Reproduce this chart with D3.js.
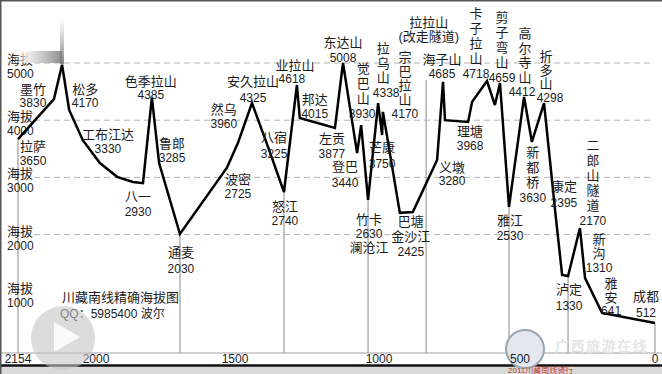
<!DOCTYPE html>
<html>
<head>
<meta charset="utf-8">
<script src="https://cdn.jsdelivr.net/npm/d3@7"></script>
<style>
  body { margin: 0; background: #fff; }
  svg { display: block; }
</style>
</head>
<body>
<script>
// profile of the road, Lhasa (left) to Chengdu (right); km = distance left to Chengdu
const routeNames = ["拉萨", "墨竹", "", "松多", "", "工布江达", "", "", "八一", "色季拉山",
  "鲁郎", "通麦", "波密", "然乌", "安久拉山", "八宿", "怒江", "业拉山", "邦达", "左贡",
  "东达山", "登巴", "觉巴山", "竹卡", "拉乌山", "芒康", "宗巴拉山", "巴塘", "拉拉山", "义墩",
  "海子山", "", "理塘", "", "卡子拉山", "", "剪子弯山", "雅江", "高尔寺山", "新都桥",
  "折多山", "康定", "", "泸定", "二郎山隧道", "新沟", "雅安", "成都"];
const routeKm = [2154, 2083, 2067, 2053, 2026, 1986, 1924, 1867, 1831, 1799,
  1773, 1698, 1529, 1490, 1441, 1385, 1330, 1285, 1275, 1153,
  1125, 1076, 1062, 1038, 1003, 989, 986, 926, 880, 794,
  773, 766, 684, 670, 617, 589, 571, 539, 485, 456,
  411, 367, 344, 322, 278, 259, 196, 0];
const routeAlt = [3670, 4370, 4970, 4180, 3650, 3250, 3010, 2920, 2900, 4400,
  3250, 2010, 3170, 3600, 4300, 3530, 2745, 4615, 4040, 3865,
  5000, 3425, 3915, 2605, 4300, 3740, 4145, 2380, 2395, 3305,
  4670, 4000, 3970, 4320, 4685, 4265, 4650, 2485, 4405, 3620,
  4300, 2290, 1295, 1275, 2115, 1240, 630, 455];

// labelled stations and the altitudes written on the chart
const stationNames = ["拉萨", "墨竹", "松多", "工布江达", "八一", "色季拉山", "鲁郎", "通麦",
  "波密", "然乌", "安久拉山", "八宿", "怒江", "业拉山", "邦达", "左贡", "东达山", "登巴",
  "觉巴山", "竹卡", "拉乌山", "芒康", "宗巴拉山", "巴塘", "拉拉山", "义墩", "海子山", "理塘",
  "卡子拉山", "剪子弯山", "雅江", "高尔寺山", "新都桥", "折多山", "康定", "泸定",
  "二郎山隧道", "新沟", "雅安", "成都"];
const stationAltText = ["3650", "3830", "4170", "3330", "2930", "4385", "3285", "2030",
  "2725", "3960", "4325", "3225", "2740", "4618", "4015", "3877", "5008", "3440",
  "3930", "2630", "4338", "3750", "4170", "2425", "", "3280", "4685", "3968",
  "4718", "4659", "2530", "4412", "3630", "4298", "2395", "1330",
  "2170", "1310", "641", "512"];
const stationNotes = { "竹卡": "澜沧江", "巴塘": "金沙江", "拉拉山": "(改走隧道)" };

const gridAlts = [2000, 3000, 4000, 5000];
const axisAlts = [1000, 2000, 3000, 4000, 5000];
const kmTicks = [2154, 2000, 1500, 1000, 500, 0];
// grey drop lines down to the axis
const dropKm = [2154, 1698, 1330, 1038, 833, 539, 322, 0];
const dropAlt = [3670, 2010, 2745, 2605, 4700, 2485, 1275, 455];

const title = "川藏南线精确海拔图";
const credit = "QQ：5985400  波尔";

// label layout: [dx, dy of first baseline, line step, extra dx of the number]
const labelLayout = {
  "拉萨": [15, 12, 14], "墨竹": [-21, -5, 13], "松多": [16, -16, 13], "工布江达": [8, -24, 14],
  "八一": [-5, 18, 15], "色季拉山": [-1, -11, 13], "鲁郎": [13, -15, 14], "通麦": [1, 23, 16],
  "波密": [11, 16, 14], "然乌": [-14, -29, 14], "安久拉山": [1, -17, 16], "八宿": [6, -5, 16],
  "怒江": [1, 19, 14], "业拉山": [-2, -15, 13, -3], "邦达": [15, -14, 14], "左贡": [-3, 15, 15],
  "东达山": [0, -16, 15], "登巴": [-12, 18, 16], "觉巴山": [2, -52, 15, -1], "竹卡": [1, 24, 14],
  "拉乌山": [5, -50, 14.7, 3], "芒康": [0, 17, 16], "宗巴拉山": [22, -50, 14], "巴塘": [11, 13, 15],
  "拉拉山": [16, -185, 13.7], "义墩": [15, 12, 13], "海子山": [-1, -18, 14], "理塘": [2, 14, 14],
  "卡子拉山": [-11, -63, 15], "剪子弯山": [2, -61, 15], "雅江": [1, 18, 15], "高尔寺山": [1, -59, 14.5, -3],
  "新都桥": [1, 15, 15], "折多山": [2, -42, 13.7, 4], "康定": [8, -27, 16], "泸定": [1, 18, 16],
  "二郎山隧道": [13, -78, 15], "新沟": [14, -34, 14], "雅安": [9, -25, 13.7], "成都": [-9, -22, 16]
};
const verticalNames = new Set(["觉巴山", "拉乌山", "宗巴拉山", "卡子拉山", "剪子弯山",
  "高尔寺山", "新都桥", "折多山", "二郎山隧道", "新沟", "雅安"]);
const noteAfterValue = new Set(["竹卡"]);

const width = 662, height = 374;
const font = "'Liberation Sans', 'Noto Sans CJK SC', sans-serif";
const ink = "#1c1c1c";

const x = d3.scaleLinear().domain(kmTicks).range([18, 96, 235, 379, 520, 655]);
const y = d3.scaleLinear().domain([0, 5000]).range([349, 63]);

const svg = d3.select("body").append("svg")
  .attr("width", width)
  .attr("height", height)
  .attr("viewBox", [0, 0, width, height])
  .style("font-family", font);

svg.append("rect").attr("width", width).attr("height", height).attr("fill", "#fff");

// dashed altitude grid
svg.append("g")
  .selectAll("line")
  .data(gridAlts)
  .join("line")
    .attr("x1", 34)
    .attr("x2", 652)
    .attr("y1", d => y(d))
    .attr("y2", d => y(d))
    .attr("stroke", "#b4b4b4")
    .attr("stroke-dasharray", "6,4");

// grey drops
svg.append("g")
  .selectAll("line")
  .data(dropKm)
  .join("line")
    .attr("x1", d => x(d))
    .attr("x2", d => x(d))
    .attr("y1", (d, i) => y(dropAlt[i]))
    .attr("y2", 353)
    .attr("stroke", "#b0b0b0")
    .attr("stroke-width", 1.5);

// bottom axis
svg.append("line").attr("x1", 0).attr("x2", width).attr("y1", 353).attr("y2", 353)
  .attr("stroke", "#a0a0a0");
svg.append("rect").attr("x", 0).attr("y", 366).attr("width", width).attr("height", 8)
  .attr("fill", "#d9d9d9");
svg.append("line").attr("x1", 0).attr("x2", width).attr("y1", 365.5).attr("y2", 365.5)
  .attr("stroke", "#111").attr("stroke-width", 2.5);

// watermark logo behind the 500 tick
svg.append("circle").attr("cx", 525).attr("cy", 349).attr("r", 19)
  .attr("fill", "#e3e8ee").attr("stroke", "#9aa6b2").attr("stroke-width", 2);
svg.append("text").attr("x", 555).attr("y", 351).attr("font-size", 14).attr("font-weight", 700)
  .attr("fill", "#e6e6e6").attr("letter-spacing", 1.5).text("广西旅游在线");
svg.append("text").attr("x", 508).attr("y", 373).attr("font-size", 8)
  .attr("fill", "#c0392b").text("2011川藏南线骑行");

svg.append("g")
  .selectAll("text")
  .data(kmTicks)
  .join("text")
    .attr("x", d => x(d))
    .attr("y", 363)
    .attr("text-anchor", "middle")
    .attr("font-size", 12)
    .attr("fill", ink)
    .text(d => d);

// left altitude labels
svg.append("g")
  .attr("fill", ink)
  .selectAll("text")
  .data(axisAlts)
  .join("text")
    .call(t => t.append("tspan")
      .attr("x", 7)
      .attr("y", d => y(d) + 1)
      .attr("font-size", 13)
      .text("海拔"))
    .call(t => t.append("tspan")
      .attr("x", 7)
      .attr("y", d => y(d) + 15)
      .attr("font-size", 12)
      .text(d => d));

// the profile
const line = d3.line()
  .x((d, i) => x(routeKm[i]))
  .y((d, i) => y(routeAlt[i]));

svg.append("path")
  .attr("d", line(routeAlt))
  .attr("fill", "none")
  .attr("stroke", "#000")
  .attr("stroke-width", 2.5)
  .attr("stroke-linejoin", "miter")
  .attr("stroke-miterlimit", 3);

// station labels, one text per station
const labels = svg.append("g").attr("fill", ink).attr("text-anchor", "middle");
stationNames.forEach((name, i) => {
  const k = routeNames.indexOf(name);
  const px = x(routeKm[k]), py = y(routeAlt[k]);
  const [dx, dy, step, numDx = 0] = labelLayout[name];
  const lines = verticalNames.has(name) ? Array.from(name) : [name];
  const note = stationNotes[name];
  if (note && !noteAfterValue.has(name)) lines.push(note);
  if (stationAltText[i]) lines.push(stationAltText[i]);
  if (note && noteAfterValue.has(name)) lines.push(note);
  const text = labels.append("text");
  lines.forEach((t, j) => {
    const isNum = /^\d+$/.test(t);
    text.append("tspan")
      .attr("x", px + dx + (isNum ? numDx : 0))
      .attr("y", py + dy + j * step)
      .attr("font-size", isNum ? 12 : 13)
      .text(t);
  });
});

// title and credit
svg.append("text")
  .attr("fill", ink)
  .call(t => t.append("tspan").attr("x", 62).attr("y", 302).attr("font-size", 13).text(title))
  .call(t => t.append("tspan").attr("x", 60).attr("y", 318).attr("font-size", 12).text(credit));

// overlays seen on the capture
const defs = svg.append("defs");
const band = defs.append("linearGradient").attr("id", "band");
band.append("stop").attr("offset", 0).attr("stop-color", "#fff").attr("stop-opacity", 0);
band.append("stop").attr("offset", 0.3).attr("stop-color", "#eee").attr("stop-opacity", 0.95);
band.append("stop").attr("offset", 1).attr("stop-color", "#8a8a8a").attr("stop-opacity", 0.95);
const streak = defs.append("linearGradient").attr("id", "streak")
  .attr("x1", 0).attr("x2", 0).attr("y1", 0).attr("y2", 1);
streak.append("stop").attr("offset", 0).attr("stop-color", "#999").attr("stop-opacity", 0);
streak.append("stop").attr("offset", 1).attr("stop-color", "#777").attr("stop-opacity", 0.9);
svg.append("rect").attr("x", 14).attr("y", 51).attr("width", 48).attr("height", 12).attr("fill", "url(#band)");
svg.append("rect").attr("x", 60).attr("y", 18).attr("width", 4).attr("height", 46).attr("fill", "url(#streak)");

svg.append("circle").attr("cx", 63).attr("cy", 338).attr("r", 32)
  .attr("fill", "#c4c4c4").attr("fill-opacity", 0.6);
svg.append("path").attr("d", "M54,322L54,352L80,337Z").attr("fill", "#fff").attr("fill-opacity", 0.85);

// frame
svg.append("path").attr("d", `M0.75,${height}V0.75H${width}`).attr("fill", "none")
  .attr("stroke", "#555").attr("stroke-width", 1.5);
</script>
</body>
</html>
